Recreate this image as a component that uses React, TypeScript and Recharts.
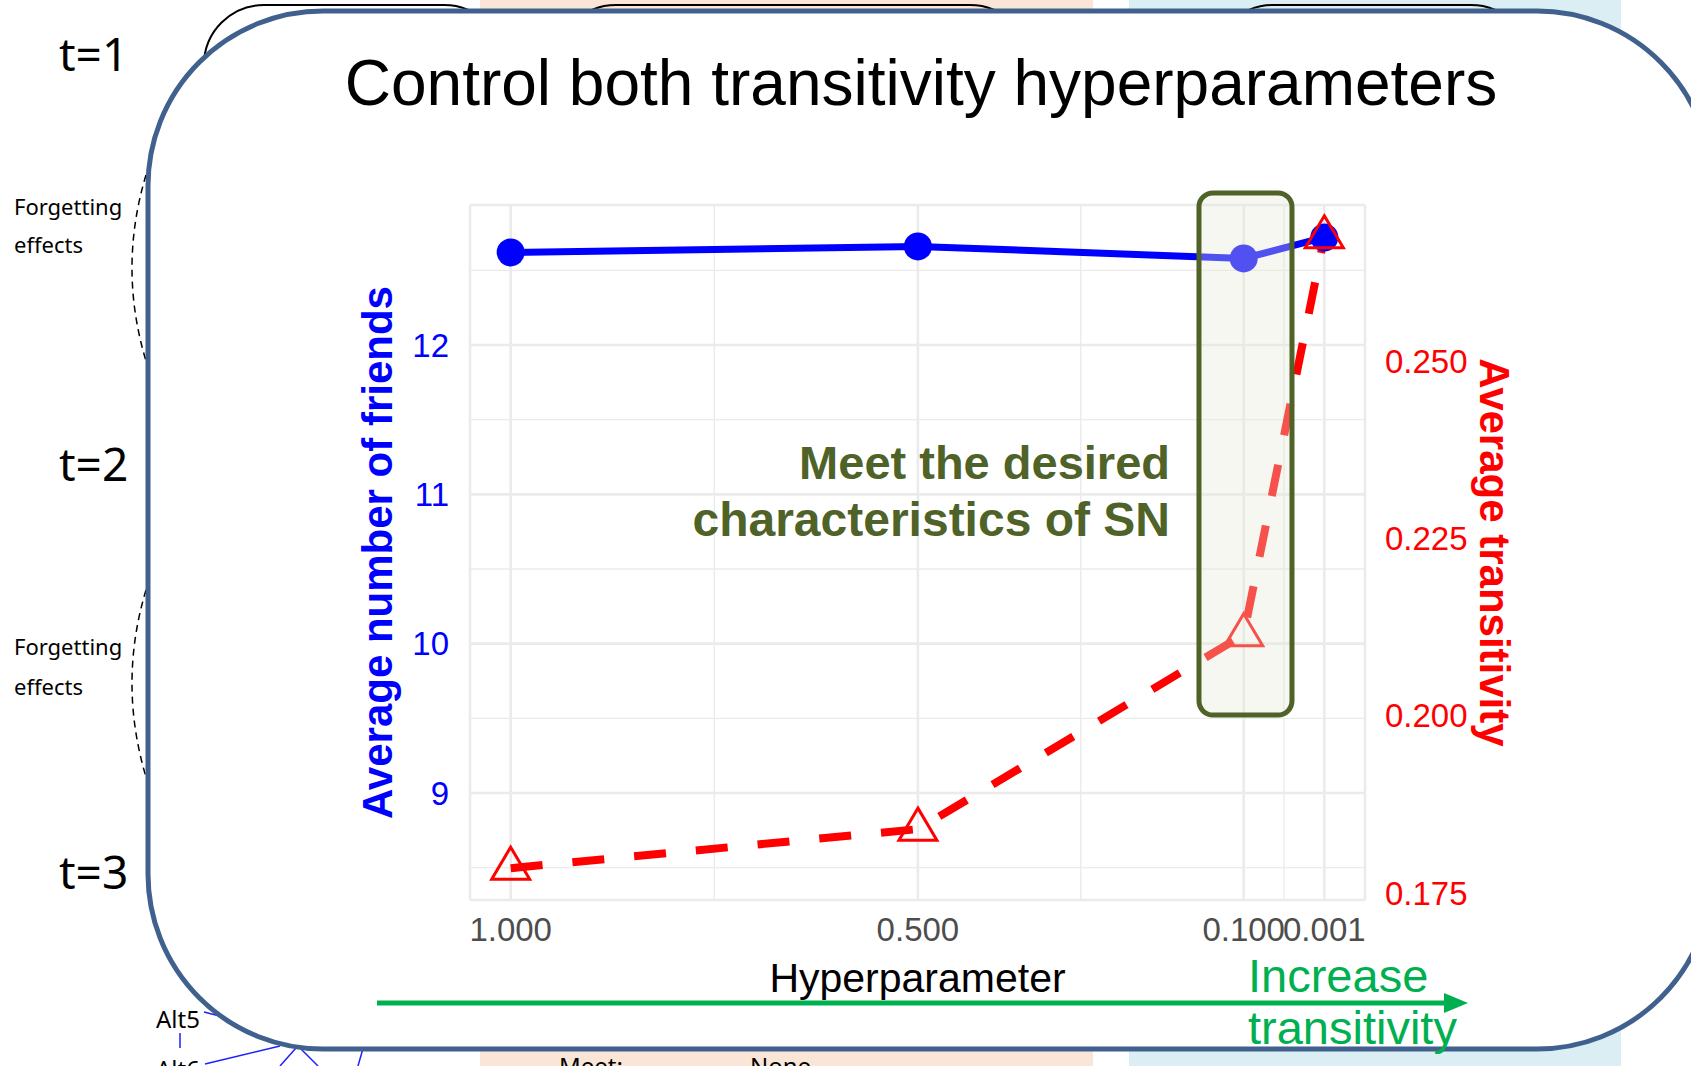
import React from 'react';
import {
  LineChart, Line, XAxis, YAxis, CartesianGrid, ReferenceLine, ReferenceArea,
} from 'recharts';

// ── data ─────────────────────────────────────────────────────────────────────

const hyperparams = [1.0, 0.5, 0.1, 0.001];
const avgFriends = [12.62, 12.66, 12.58, 12.72];
const avgTransitivity = [0.1785, 0.184, 0.2114, 0.2675];

const xTicks = [1, 0.5, 0.1, 0.001];
const xMinorTicks = [0.75, 0.3, 0.0505];
const friendTicks = [9, 10, 11, 12];
const friendMinorTicks = [8.5, 9.5, 10.5, 11.5, 12.5];
const transitivityTicks = [0.175, 0.2, 0.225, 0.25];

const data = hyperparams.map((h, i) => ({
  h,
  friends: avgFriends[i],
  trans: avgTransitivity[i],
}));

const SANS = '"Liberation Sans", Arial, sans-serif';
const SLIDE_FONT = '"Noto Sans", "DejaVu Sans", sans-serif';
const BLUE = '#0000ff';
const RED = '#ff0000';
const OLIVE = '#4f6228';
const GREEN = '#00b050';
const GRID = '#ebebeb';

// ── small pieces ─────────────────────────────────────────────────────────────

const TriangleDot = ({ cx, cy }: any) => {
  if (cx == null || cy == null) return null;
  return (
    <path
      d={`M${cx},${cy - 21} L${cx + 19},${cy + 11} L${cx - 19},${cy + 11} Z`}
      fill="none" stroke={RED} strokeWidth={3} strokeLinejoin="miter"
    />
  );
};

// recharts clones label content with its own angle/position props, so use own names
const AxisTitle = ({ viewBox, text, offX, offY, rot, color, bold, size }: any) => {
  const { x, y, width, height } = viewBox;
  const cx = x + (offX ?? width / 2);
  const cy = y + (offY ?? height / 2);
  return (
    <text
      x={cx} y={cy} transform={rot ? `rotate(${rot} ${cx} ${cy})` : undefined}
      textAnchor="middle" dominantBaseline="central"
      fill={color} fontSize={size} fontWeight={bold ? 700 : 400} fontFamily={SANS}
    >
      {text}
    </text>
  );
};

const HighlightBox = (p: any) => (
  <rect
    x={p.x} y={p.y} width={p.width} height={p.height} rx={14}
    fill="#e4e8d4" fillOpacity={0.35} stroke={OLIVE} strokeWidth={5}
  />
);

// slide content lying behind the chart frame
const SlideBackdrop = () => (
  <svg width={1691} height={1066} style={{ position: 'absolute', left: 0, top: 0 }}>
    <rect x={480} y={0} width={613} height={1066} fill="#fbe5d6" />
    <rect x={1129} y={0} width={492} height={1066} fill="#daeef3" />
    <rect x={204} y={5} width={300} height={400} rx={60} fill="none" stroke="#000" strokeWidth={2} />
    <rect x={556} y={5} width={474} height={400} rx={60} fill="none" stroke="#000" strokeWidth={2} />
    <rect x={1213} y={5} width={318} height={400} rx={60} fill="none" stroke="#000" strokeWidth={2} />

    <g fontFamily={SLIDE_FONT} fill="#000">
      <text x={59} y={71} fontSize={46}>t=1</text>
      <text x={59} y={481} fontSize={46}>t=2</text>
      <text x={59} y={889} fontSize={46}>t=3</text>
      <text x={14} y={215} fontSize={22}>Forgetting</text>
      <text x={14} y={253} fontSize={22}>effects</text>
      <text x={14} y={655} fontSize={22}>Forgetting</text>
      <text x={14} y={695} fontSize={22}>effects</text>
      <text x={156} y={1028} fontSize={24}>Alt5</text>
      <text x={156} y={1078} fontSize={24}>Alt6</text>
      <text x={559} y={1075} fontSize={24}>Meet:</text>
      <text x={750} y={1075} fontSize={24}>None</text>
    </g>
    <path d="M146,175 Q118,268 146,361" fill="none" stroke="#000" strokeWidth={1.5} strokeDasharray="7 5" />
    <path d="M146,590 Q118,683 146,777" fill="none" stroke="#000" strokeWidth={1.5} strokeDasharray="7 5" />
    <g stroke="#1f1fff" strokeWidth={1.5}>
      <line x1={204} y1={1012} x2={235} y2={1020} />
      <line x1={180} y1={1033} x2={180} y2={1048} />
      <line x1={205} y1={1064} x2={280} y2={1046} />
      <line x1={296} y1={1048} x2={280} y2={1066} />
      <line x1={300} y1={1048} x2={318} y2={1066} />
      <line x1={364} y1={1045} x2={358} y2={1066} />
    </g>

    <rect x={148} y={11} width={1564} height={1038} rx={175} fill="#fff" stroke="#40618e" strokeWidth={5} />
  </svg>
);

// slide annotations drawn over the chart
const Annotations = () => (
  <svg width={1691} height={1066} style={{ position: 'absolute', left: 0, top: 0, pointerEvents: 'none' }}>
    <g fontFamily={SANS}>
      <text x={921} y={105} textAnchor="middle" fontSize={64} fill="#000">
        Control both transitivity hyperparameters
      </text>
      <text x={1170} y={479} textAnchor="end" fontSize={47} fontWeight={700} fill={OLIVE}>
        Meet the desired
      </text>
      <text x={1170} y={536} textAnchor="end" fontSize={48} fontWeight={700} fill={OLIVE}>
        characteristics of SN
      </text>
      <text x={1248} y={992} fontSize={47} fill={GREEN}>Increase</text>
      <text x={1248} y={1044} fontSize={47} fill={GREEN}>transitivity</text>
    </g>
    <line x1={377} y1={1003} x2={1447} y2={1003} stroke={GREEN} strokeWidth={5} />
    <path d="M1444,993 L1468,1003 L1444,1013 Z" fill={GREEN} />
  </svg>
);

// ── chart ────────────────────────────────────────────────────────────────────

export default function App() {
  return (
    <div style={{
      position: 'absolute', left: 0, top: 0, width: 1691, height: 1066,
      overflow: 'hidden', background: '#fff', fontFamily: SANS,
    }}>
      <SlideBackdrop />
      <div style={{ position: 'absolute', left: 0, top: 0 }}>
        <LineChart width={1691} height={1066} data={data}
          margin={{ top: 205, right: 226, bottom: 106, left: 370 }}>
          <CartesianGrid yAxisId="left" stroke={GRID} strokeWidth={2.6} />
          {xMinorTicks.map(v => (
            <ReferenceLine key={`vx-${v}`} x={v} yAxisId="left" stroke={GRID} strokeWidth={1.4} />
          ))}
          {friendMinorTicks.map(v => (
            <ReferenceLine key={`hy-${v}`} y={v} yAxisId="left" stroke={GRID} strokeWidth={1.4} />
          ))}
          <XAxis
            dataKey="h" type="number" reversed domain={[-0.04895, 1.04995]} allowDataOverflow
            ticks={xTicks} interval={0} tickFormatter={v => Number(v).toFixed(3)}
            axisLine={false} tickLine={false} tickSize={0} tickMargin={18} height={60}
            tick={{ fill: '#4d4d4d', fontSize: 33, fontFamily: SANS }}
            label={<AxisTitle text="Hyperparameter" offY={78} color="#000" size={41} />}
          />
          <YAxis
            yAxisId="left" orientation="left" type="number" width={100}
            domain={[8.2835, 12.9375]} allowDataOverflow ticks={friendTicks} interval={0}
            axisLine={false} tickLine={false} tickSize={0} tickMargin={21}
            tick={{ fill: BLUE, fontSize: 33, fontFamily: SANS }}
            label={<AxisTitle text="Average number of friends" offX={7} rot={-90} color={BLUE} bold size={42} />}
          />
          <YAxis
            yAxisId="right" orientation="right" type="number" width={100}
            domain={[0.17401, 0.27199]} allowDataOverflow ticks={transitivityTicks} interval={0}
            tickFormatter={v => Number(v).toFixed(3)}
            axisLine={false} tickLine={false} tickSize={0} tickMargin={20}
            tick={{ fill: RED, fontSize: 33, fontFamily: SANS }}
            label={<AxisTitle text="Average transitivity" offX={129} rot={90} color={RED} bold size={42} />}
          />
          <Line
            yAxisId="left" dataKey="friends" stroke={BLUE} strokeWidth={7}
            dot={{ r: 14, fill: BLUE, stroke: 'none' }} activeDot={false}
            isAnimationActive={false}
          />
          <Line
            yAxisId="right" dataKey="trans" stroke={RED} strokeWidth={8}
            strokeDasharray="32 30" dot={<TriangleDot />} activeDot={false}
            isAnimationActive={false}
          />
          <ReferenceArea
            yAxisId="left" x1={0.1549} x2={0.0407} y1={9.522} y2={13.018}
            ifOverflow="visible" shape={<HighlightBox />} zIndex={1000}
          />
        </LineChart>
      </div>
      <Annotations />
    </div>
  );
}
